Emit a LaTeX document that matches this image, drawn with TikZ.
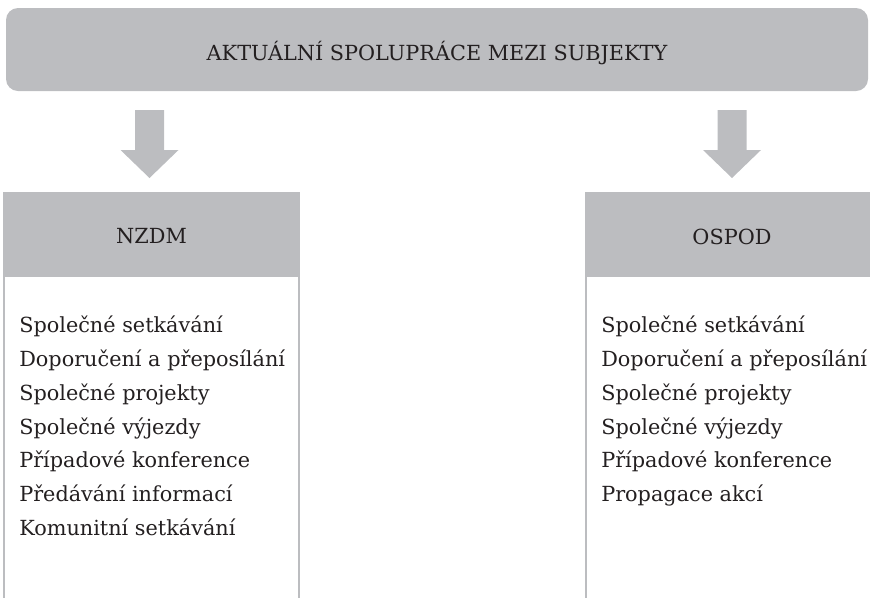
\documentclass[tikz,border=0pt]{standalone}
\usepackage{fontspec}
\setmainfont{DejaVu Serif}
\definecolor{boxgray}{HTML}{BCBDC0}
\definecolor{txt}{HTML}{231F20}
\tikzset{
  banner/.style={fill=boxgray, rounded corners=9pt, inner sep=0pt,
    minimum width=646.5pt, minimum height=62.25pt},
  headbox/.style={fill=boxgray, inner sep=0pt, minimum height=63.75pt},
  label/.style={inner sep=0pt, text=txt, font=\fontsize{15.6}{18}\selectfont},
  item/.style={anchor=base west, inner sep=0pt, text=txt, font=\fontsize{15.6}{18}\selectfont},
  side/.style={draw=boxgray, line width=1.5pt},
}
\newcommand\blockarrowat[1]{%
  \fill[boxgray] (#1) ++(-14.5,0) -- ++(29,0) -- ++(0,40) -- ++(14.5,0)
    -- ++(-29,28) -- ++(-29,-28) -- ++(14.5,0) -- cycle;}
\begin{document}
\begin{tikzpicture}[x=0.75pt,y=-0.75pt]
\useasboundingbox (0,0) rectangle (870,597);
\clip (0,0) rectangle (870,597);
% banner
\node[banner] (top) at (437,49.5) {};
\node[label] (toptext) at ([yshift=-2.5pt]top.center) {AKTUÁLNÍ SPOLUPRÁCE MEZI SUBJEKTY};
% arrows
\coordinate (la) at (149.5,110);
\coordinate (ra) at (732,110);
\blockarrowat{la}
\blockarrowat{ra}
% left box
\node[headbox, minimum width=222.75pt] (nzdm) at (151.5,234.5) {};
\node[label] (nzdmtext) at ([yshift=-1.5pt]nzdm.center) {NZDM};
\draw[side] ([xshift=0.75pt]nzdm.south west) -- ++(0,330);
\draw[side] ([xshift=-0.75pt]nzdm.south east) -- ++(0,330);
% right box
\node[headbox, minimum width=220.5pt] (ospod) at (732,234.5) {};
\node[label] (ospodtext) at ([yshift=-1.5pt]ospod.center) {OSPOD};
\draw[side] ([xshift=0.75pt]ospod.south west) -- ++(0,330);
% left items
\node[item] (l1) at (19,332) {Společné setkávání};
\node[item] (l2) at (19,366) {Doporučení a přeposílání};
\node[item] (l3) at (19,400) {Společné projekty};
\node[item] (l4) at (19,434) {Společné výjezdy};
\node[item] (l5) at (19,467.5) {Případové konference};
\node[item] (l6) at (19,501) {Předávání informací};
\node[item] (l7) at (19,535) {Komunitní setkávání};
% right items
\node[item] (r1) at (601,332) {Společné setkávání};
\node[item] (r2) at (601,366) {Doporučení a přeposílání};
\node[item] (r3) at (601,400) {Společné projekty};
\node[item] (r4) at (601,434) {Společné výjezdy};
\node[item] (r5) at (601,467.5) {Případové konference};
\node[item] (r6) at (601,501) {Propagace akcí};
\end{tikzpicture}
\end{document}
